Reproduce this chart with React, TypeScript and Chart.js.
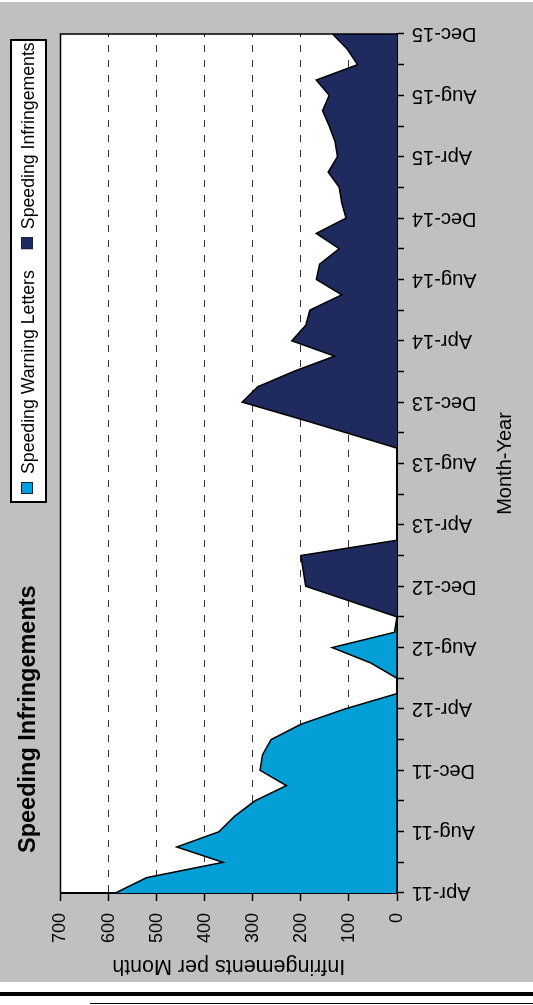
import React, { useEffect, useRef } from "react";
import { Chart, registerables } from "chart.js";

Chart.register(...registerables);

const FONT = "'Liberation Sans', Arial, Helvetica, sans-serif";

const CHART_TITLE = "Speeding Infringements";
const X_TITLE = "Month-Year";
const Y_TITLE = "Infringements per Month";

const MONTHS: string[] = [
  "Apr-11", "May-11", "Jun-11", "Jul-11", "Aug-11", "Sep-11", "Oct-11", "Nov-11", "Dec-11",
  "Jan-12", "Feb-12", "Mar-12", "Apr-12", "May-12", "Jun-12", "Jul-12", "Aug-12", "Sep-12", "Oct-12", "Nov-12", "Dec-12",
  "Jan-13", "Feb-13", "Mar-13", "Apr-13", "May-13", "Jun-13", "Jul-13", "Aug-13", "Sep-13", "Oct-13", "Nov-13", "Dec-13",
  "Jan-14", "Feb-14", "Mar-14", "Apr-14", "May-14", "Jun-14", "Jul-14", "Aug-14", "Sep-14", "Oct-14", "Nov-14", "Dec-14",
  "Jan-15", "Feb-15", "Mar-15", "Apr-15", "May-15", "Jun-15", "Jul-15", "Aug-15", "Sep-15", "Oct-15", "Nov-15", "Dec-15",
];

const WARNING_LETTERS: number[] = [
  586, 521, 362, 458, 370, 338, 296, 230, 285,
  280, 262, 200, 108, 0, 0, 55, 135, 5, 0, 0, 0,
  0, 0, 0, 0, 0, 0, 0, 0, 0, 0, 0, 0,
  0, 0, 0, 0, 0, 0, 0, 0, 0, 0, 0, 0,
  0, 0, 0, 0, 0, 0, 0, 0, 0, 0, 0, 0,
];

const INFRINGEMENTS: number[] = [
  0, 0, 0, 0, 0, 0, 0, 0, 0,
  0, 0, 0, 0, 0, 0, 0, 0, 0, 0, 95, 190,
  195, 200, 0, 0, 0, 0, 0, 0, 0, 105, 212, 322,
  290, 215, 130, 219, 190, 181, 115, 168, 161, 120, 168, 106,
  115, 120, 143, 124, 129, 141, 155, 141, 168, 82, 103, 134,
];

const SERIES_NAMES = ["Speeding Warning Letters", "Speeding Infringements"];
const SERIES_COLORS = ["#039fd6", "#1f2a5e"];

const Y_MIN = 0;
const Y_MAX = 700;
const Y_STEP = 100;

const decorPlugin = {
  id: "decor",
  beforeDraw(chart: any) {
    const { ctx, width, height, chartArea: a } = chart;
    ctx.save();
    ctx.fillStyle = "#c0c0c0";
    ctx.fillRect(0, 0, width, height);
    ctx.fillStyle = "#ffffff";
    ctx.fillRect(a.left, a.top, a.right - a.left, a.bottom - a.top);
    ctx.restore();
  },
  afterDraw(chart: any) {
    const { ctx, chartArea: a } = chart;
    ctx.save();
    // plot frame (top and right sides)
    ctx.strokeStyle = "#000";
    ctx.lineWidth = 1.5;
    ctx.beginPath();
    ctx.moveTo(a.left, a.top);
    ctx.lineTo(a.right, a.top);
    ctx.lineTo(a.right, a.bottom);
    ctx.stroke();

    // chart title
    ctx.fillStyle = "#000";
    ctx.font = `bold 23.5px ${FONT}`;
    ctx.textAlign = "left";
    ctx.textBaseline = "alphabetic";
    ctx.fillText(CHART_TITLE, a.left + 40, 35);

    // legend
    ctx.font = `17.7px ${FONT}`;
    const bx = 480, by = 11, bw = 462, bh = 35;
    ctx.fillStyle = "#fff";
    ctx.fillRect(bx, by, bw, bh);
    ctx.lineWidth = 2;
    ctx.strokeStyle = "#000";
    ctx.strokeRect(bx, by, bw, bh);
    let tx = 508;
    chart.data.datasets.forEach((ds: any) => {
      ctx.fillStyle = ds.backgroundColor;
      ctx.fillRect(tx - 20, 21, 12, 12);
      ctx.lineWidth = 1;
      ctx.strokeStyle = "#1a1f3a";
      ctx.strokeRect(tx - 20 + 0.5, 21.5, 11, 11);
      ctx.fillStyle = "#000";
      ctx.fillText(ds.label, tx, 34);
      tx += ctx.measureText(ds.label).width + 41;
    });
    ctx.restore();
  },
};

export default function App() {
  const ref = useRef<HTMLCanvasElement>(null);

  useEffect(() => {
    document.body.style.margin = "0";
    Chart.defaults.font.family = FONT;
    const canvas = ref.current!;
    const chart = new Chart(canvas, {
      type: "line",
      data: {
        labels: MONTHS,
        datasets: [
          {
            label: SERIES_NAMES[0],
            data: WARNING_LETTERS,
            backgroundColor: SERIES_COLORS[0],
            borderColor: "#000",
            borderWidth: 1.5,
            fill: "origin",
            pointRadius: 0,
            tension: 0,
            order: 2,
          },
          {
            label: SERIES_NAMES[1],
            data: INFRINGEMENTS,
            backgroundColor: SERIES_COLORS[1],
            borderColor: "#000",
            borderWidth: 1.5,
            fill: "origin",
            pointRadius: 0,
            tension: 0,
            order: 1,
          },
        ],
      },
      options: {
        responsive: false,
        animation: false,
        devicePixelRatio: 1,
        layout: { padding: { left: 0, top: 60.5, right: 28, bottom: 0 } },
        plugins: {
          legend: { display: false },
          title: { display: false },
          tooltip: { enabled: false },
        },
        scales: {
          x: {
            type: "category",
            position: "bottom",
            offset: false,
            grid: {
              drawOnChartArea: false,
              tickLength: 7,
              tickWidth: 1.5,
              tickColor: (c: any) => (c.index % 2 === 0 ? "#000" : "rgba(0,0,0,0)"),
            },
            border: { color: "#000", width: 2 },
            ticks: {
              autoSkip: false,
              minRotation: 90,
              maxRotation: 90,
              padding: 8,
              color: "#000",
              font: { family: FONT, size: 20 },
              callback: (_v: any, i: number) => (i % 4 === 0 ? MONTHS[i] : ""),
            },
            title: {
              display: true,
              text: X_TITLE,
              color: "#000",
              font: { family: FONT, size: 20 },
              padding: { top: 0, bottom: 16 },
            },
            afterFit: (s: any) => {
              s.height = 136;
            },
          },
          y: {
            type: "linear",
            position: "left",
            min: Y_MIN,
            max: Y_MAX,
            ticks: {
              stepSize: Y_STEP,
              padding: 12,
              color: "#000",
              font: { family: FONT, size: 18 },
            },
            grid: {
              color: (c: any) =>
                c.tick && (c.tick.value === Y_MIN || c.tick.value === Y_MAX) ? "rgba(0,0,0,0)" : "#333",
              lineWidth: 1,
              tickColor: "#000",
              tickLength: 8,
              tickWidth: 1.5,
            },
            border: { color: "#000", width: 2, dash: [7, 8] },
            title: {
              display: true,
              text: Y_TITLE,
              color: "#000",
              font: { family: FONT, size: 21.5 },
              padding: { top: 3, bottom: 0 },
            },
            afterFit: (s: any) => {
              s.width = 89;
            },
          },
        },
      } as any,
      plugins: [decorPlugin],
    });
    return () => chart.destroy();
  }, []);

  return (
    <div style={{ position: "relative", width: 533, height: 1005, overflow: "hidden", background: "#fff" }}>
      <div
        style={{
          position: "absolute",
          left: 0,
          top: 0,
          width: 980,
          height: 533,
          transformOrigin: "0 0",
          transform: "matrix(0, -1, 1, 0, 0, 982)",
        }}
      >
        <canvas ref={ref} width={980} height={533} style={{ display: "block" }} />
      </div>
      <div style={{ position: "absolute", left: 0, top: 992, width: 533, height: 4, background: "#000" }} />
      <div style={{ position: "absolute", left: 90, top: 1003, width: 443, height: 1, background: "#000" }} />
    </div>
  );
}
